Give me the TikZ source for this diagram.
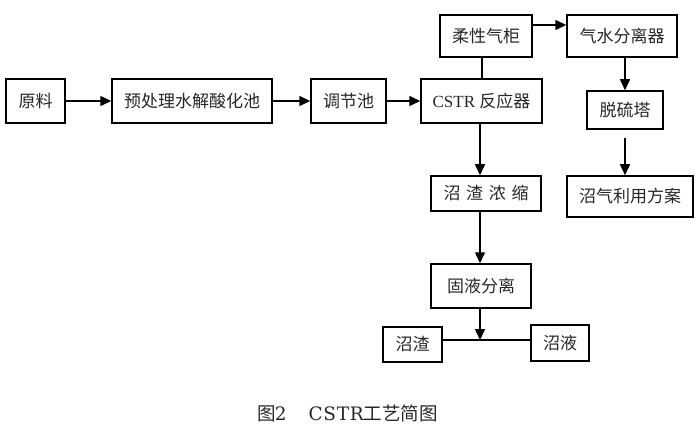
\documentclass[tikz,border=0pt]{standalone}
\usepackage{fontspec}
\setmainfont{Liberation Serif}
\newfontfamily\capfont{DejaVu Serif}
\newfontfamily\cjk{Noto Sans CJK SC}
\usetikzlibrary{arrows.meta}
\tikzset{
  box/.style={draw=black, line width=1.5pt, rectangle, inner sep=0pt, align=center,
    text=black!85, font=\fontsize{17}{19}\selectfont},
  conn/.style={line width=1.5pt, draw=black},
  arr/.style={conn, -{Triangle[length=11pt,width=10pt]}},
}
\begin{document}
\begin{tikzpicture}[x=1pt,y=-1pt]
\useasboundingbox (0,0) rectangle (700,430);
\node[box, minimum width=59pt, minimum height=44pt] (yuanliao) at (35.5,101) {\cjk 原料};
\node[box, minimum width=160pt, minimum height=44pt] (yuchuli) at (192,101) {\cjk 预处理水解酸化池};
\node[box, minimum width=75pt, minimum height=44pt] (tiaojie) at (348.5,101) {\cjk 调节池};
\node[box, minimum width=121pt, minimum height=44pt] (cstr) at (481.5,101) {CSTR {\cjk 反应器}};
\node[box, minimum width=92pt, minimum height=42pt] (rouxing) at (486,36) {\cjk 柔性气柜};
\node[box, minimum width=110pt, minimum height=42pt] (qishui) at (622,36) {\cjk 气水分离器};
\node[box, minimum width=76pt, minimum height=38pt] (tuoliu) at (625,110) {\cjk 脱硫塔};
\node[box, minimum width=110pt, minimum height=35pt] (nongsuo) at (486,193.5) {\cjk 沼\,\,渣\,\,浓\,\,缩};
\node[box, minimum width=126pt, minimum height=41pt] (liyong) at (630,196.5) {\cjk 沼气利用方案};
\node[box, minimum width=100pt, minimum height=44pt] (guye) at (481,286) {\cjk 固液分离};
\node[box, minimum width=59pt, minimum height=35pt] (zhazha) at (412.5,344.5) {\cjk 沼渣};
\node[box, minimum width=58pt, minimum height=36pt] (zhaye) at (560,343) {\cjk 沼液};

\draw[arr] (yuanliao) -- (yuchuli);
\draw[arr] (yuchuli) -- (tiaojie);
\draw[arr] (tiaojie) -- (cstr);
\draw[conn] ([xshift=-4pt]rouxing.south) -- ([xshift=-4pt]rouxing.south |- cstr.north);
\draw[arr] ([yshift=11pt]rouxing.east) -- ([yshift=11pt]qishui.west);
\draw[arr] (qishui.south -| tuoliu.south) -- (tuoliu.north);
\coordinate (tstart) at ([yshift=-8pt]tuoliu.south);
\draw[arr] (tstart) -- (tstart |- liyong.north);
\draw[arr] ([xshift=-1.5pt]cstr.south) -- ([xshift=-1.5pt]cstr.south |- nongsuo.north);
\draw[arr] ([xshift=-6pt]nongsuo.south) -- ([xshift=-6pt]nongsuo.south |- guye.north);
\coordinate (junc) at (480,340);
\draw[conn] (zhazha.east |- junc) -- (zhaye.west |- junc);
\draw[arr] (guye.south -| junc) -- (junc);

\node[text=black!85, inner sep=0pt, anchor=west, font=\fontsize{18.5}{20}\selectfont] (caption) at (257,413)
  {{\cjk 图}\makebox[11pt][r]{\capfont 2}\hspace{22pt}\makebox[55pt][s]{\capfont C\hfil S\hfil T\hfil R}{\cjk 工艺简图}};
\end{tikzpicture}
\end{document}
